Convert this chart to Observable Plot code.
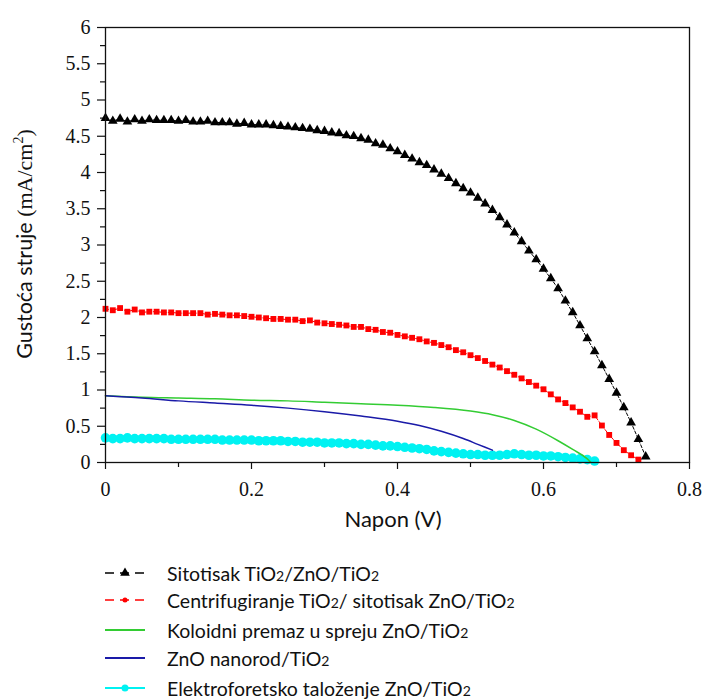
<!DOCTYPE html>
<html>
<head>
<meta charset="utf-8">
<script src="https://cdn.jsdelivr.net/npm/d3@7"></script>
<script src="https://cdn.jsdelivr.net/npm/@observablehq/plot@0.6"></script>
<style>
  body { margin: 0; background: #fff; }
  #wrap { position: relative; width: 707px; height: 700px; overflow: hidden; }
  .leg { position: absolute; left: 103px; font-family: Lato, "Open Sans", sans-serif; font-size: 19.5px; color: #111; display: flex; align-items: center; height: 22px; white-space: nowrap; }
  .leg svg { margin-right: 20px; flex: none; }
  .sub { font-size: 72%; }
</style>
</head>
<body>
<div id="wrap"></div>
<script>
// ---- data ----
const xBlack = [0.00,0.01,0.02,0.03,0.04,0.05,0.06,0.07,0.08,0.09,0.10,0.11,0.12,0.13,0.14,0.15,0.16,0.17,0.18,0.19,0.20,0.21,0.22,0.23,0.24,0.25,0.26,0.27,0.28,0.29,0.30,0.31,0.32,0.33,0.34,0.35,0.36,0.37,0.38,0.39,0.40,0.41,0.42,0.43,0.44,0.45,0.46,0.47,0.48,0.49,0.50,0.51,0.52,0.53,0.54,0.55,0.56,0.57,0.58,0.59,0.60,0.61,0.62,0.63,0.64,0.65,0.66,0.67,0.68,0.69,0.70,0.71,0.72,0.73,0.74];
const yBlack = [4.75,4.71,4.74,4.70,4.73,4.71,4.73,4.72,4.72,4.72,4.71,4.72,4.70,4.70,4.71,4.69,4.69,4.69,4.67,4.68,4.66,4.66,4.66,4.65,4.64,4.63,4.62,4.61,4.60,4.58,4.57,4.55,4.54,4.51,4.50,4.47,4.45,4.40,4.38,4.33,4.29,4.24,4.19,4.14,4.10,4.04,3.98,3.92,3.85,3.78,3.72,3.65,3.57,3.48,3.38,3.28,3.17,3.05,2.92,2.80,2.67,2.54,2.40,2.23,2.07,1.89,1.71,1.53,1.34,1.15,0.96,0.76,0.55,0.32,0.08];

const xRed = [0.00,0.01,0.02,0.03,0.04,0.05,0.06,0.07,0.08,0.09,0.10,0.11,0.12,0.13,0.14,0.15,0.16,0.17,0.18,0.19,0.20,0.21,0.22,0.23,0.24,0.25,0.26,0.27,0.28,0.29,0.30,0.31,0.32,0.33,0.34,0.35,0.36,0.37,0.38,0.39,0.40,0.41,0.42,0.43,0.44,0.45,0.46,0.47,0.48,0.49,0.50,0.51,0.52,0.53,0.54,0.55,0.56,0.57,0.58,0.59,0.60,0.61,0.62,0.63,0.64,0.65,0.66,0.67,0.68,0.69,0.70,0.71,0.72,0.73];
const yRed = [2.12,2.10,2.13,2.08,2.11,2.07,2.08,2.08,2.07,2.07,2.06,2.06,2.06,2.06,2.04,2.05,2.04,2.03,2.03,2.02,2.01,2.00,1.99,1.98,1.98,1.97,1.97,1.95,1.96,1.93,1.92,1.91,1.90,1.89,1.87,1.87,1.84,1.83,1.80,1.79,1.76,1.74,1.72,1.70,1.67,1.65,1.62,1.59,1.55,1.52,1.48,1.44,1.40,1.35,1.31,1.26,1.21,1.16,1.11,1.06,1.01,0.94,0.87,0.82,0.76,0.70,0.63,0.65,0.51,0.38,0.27,0.17,0.10,0.04];

const xGreen = [0.00,0.05,0.10,0.15,0.20,0.25,0.30,0.35,0.40,0.45,0.50,0.53,0.56,0.59,0.62,0.64,0.66,0.665];
const yGreen = [0.92,0.90,0.89,0.88,0.86,0.85,0.83,0.81,0.79,0.76,0.71,0.66,0.58,0.46,0.30,0.18,0.05,0.00];

const xBlue = [0.00,0.05,0.10,0.15,0.20,0.25,0.30,0.35,0.40,0.43,0.46,0.49,0.51,0.53];
const yBlue = [0.92,0.89,0.85,0.82,0.79,0.75,0.70,0.64,0.57,0.51,0.43,0.33,0.25,0.17];

const xCyan = [0.00,0.01,0.02,0.03,0.04,0.05,0.06,0.07,0.08,0.09,0.10,0.11,0.12,0.13,0.14,0.15,0.16,0.17,0.18,0.19,0.20,0.21,0.22,0.23,0.24,0.25,0.26,0.27,0.28,0.29,0.30,0.31,0.32,0.33,0.34,0.35,0.36,0.37,0.38,0.39,0.40,0.41,0.42,0.43,0.44,0.45,0.46,0.47,0.48,0.49,0.50,0.51,0.52,0.53,0.54,0.55,0.56,0.57,0.58,0.59,0.60,0.61,0.62,0.63,0.64,0.65,0.66,0.67];
const yCyan = [0.34,0.33,0.33,0.34,0.33,0.33,0.33,0.33,0.33,0.32,0.32,0.32,0.32,0.32,0.32,0.32,0.31,0.31,0.31,0.31,0.31,0.30,0.30,0.30,0.30,0.29,0.29,0.28,0.28,0.28,0.27,0.27,0.27,0.26,0.26,0.25,0.25,0.24,0.23,0.23,0.22,0.21,0.20,0.19,0.18,0.16,0.15,0.14,0.13,0.12,0.11,0.11,0.10,0.10,0.10,0.11,0.12,0.11,0.10,0.10,0.09,0.09,0.08,0.07,0.06,0.05,0.04,0.02];

const seriesNames = ["Sitotisak TiO₂/ZnO/TiO₂","Centrifugiranje TiO₂/ sitotisak ZnO/TiO₂","Koloidni premaz u spreju ZnO/TiO₂","ZnO nanorod/TiO₂","Elektroforetsko taloženje ZnO/TiO₂"];
const seriesColors = ["#000000","#ff0000","#33cc33","#1a1aa8","#00f2f2"];

const xTicks = [0,0.2,0.4,0.6,0.8];
const xTickLabels = ["0","0.2","0.4","0.6","0.8"];
const xMinor = [0.1,0.3,0.5,0.7];
const yTicks = [0,0.5,1,1.5,2,2.5,3,3.5,4,4.5,5,5.5,6];
const yTickLabels = ["0","0.5","1","1.5","2","2.5","3","3.5","4","4.5","5","5.5","6"];
const yMinor = [0.25,0.75,1.25,1.75,2.25,2.75,3.25,3.75,4.25,4.75,5.25,5.75];

const xLabel = "Napon (V)";
const yLabelMain = "Gustoća struje ";
const yLabelUnit = "(mA/cm";

const toRows = (xs, ys) => xs.map((x, i) => ({x, y: ys[i]}));
const black = toRows(xBlack, yBlack);
const red = toRows(xRed, yRed);
const green = toRows(xGreen, yGreen);
const blue = toRows(xBlue, yBlue);
const cyan = toRows(xCyan, yCyan);

const chart = Plot.plot({
  width: 707,
  height: 540,
  marginLeft: 105,
  marginRight: 18,
  marginTop: 27,
  marginBottom: 78,
  x: {domain: [0, 0.8]},
  y: {domain: [0, 6]},
  style: {fontFamily: "'Liberation Serif', serif", fontSize: "20px", color: "#111", background: "white"},
  marks: [
    Plot.axisX({ticks: xMinor, tickSize: 5, text: null, label: null, strokeWidth: 1.2}),
    Plot.axisX({ticks: xTicks, tickSize: 7, tickPadding: 12, tickFormat: d => xTickLabels[xTicks.indexOf(d)], label: null, strokeWidth: 1.2, fontSize: 20}),
    Plot.axisY({ticks: yMinor, tickSize: 5, text: null, label: null, strokeWidth: 1.2}),
    Plot.axisY({ticks: yTicks, tickSize: 8, tickPadding: 7, tickFormat: d => yTickLabels[yTicks.indexOf(d)], label: null, strokeWidth: 1.2, fontSize: 20}),
    Plot.line(cyan, {x: "x", y: "y", stroke: seriesColors[4], strokeWidth: 2}),
    Plot.dot(cyan, {x: "x", y: "y", r: 4.8, fill: seriesColors[4], stroke: null}),
    Plot.line(green, {x: "x", y: "y", stroke: seriesColors[2], strokeWidth: 1.5, curve: "monotone-x"}),
    Plot.line(blue, {x: "x", y: "y", stroke: seriesColors[3], strokeWidth: 1.5, curve: "monotone-x"}),
    Plot.line(red, {x: "x", y: "y", stroke: seriesColors[1], strokeWidth: 1, strokeDasharray: "3,2"}),
    Plot.dot(red, {x: "x", y: "y", symbol: "square", r: 3.3, fill: seriesColors[1], stroke: null}),
    Plot.line(black, {x: "x", y: "y", stroke: seriesColors[0], strokeWidth: 1, strokeDasharray: "3,2"}),
    Plot.dot(black, {x: "x", y: "y", symbol: "triangle", r: 3.6, fill: seriesColors[0], stroke: null}),
    Plot.frame({stroke: "#111", strokeWidth: 1.3})
  ]
});

const wrap = document.getElementById("wrap");
wrap.appendChild(chart);

// axis titles
const svg = d3.select(chart);
svg.append("text")
  .attr("x", 393).attr("y", 527)
  .attr("text-anchor", "middle")
  .style("font-family", "Lato, 'Open Sans', sans-serif")
  .style("font-size", "22px").style("fill", "#111")
  .text(xLabel);
const yl = svg.append("text")
  .attr("transform", "translate(32,244) rotate(-90)")
  .attr("text-anchor", "middle")
  .style("fill", "#111");
yl.append("tspan").style("font-family", "Lato, 'Open Sans', sans-serif").style("font-size", "21.5px").text(yLabelMain);
yl.append("tspan").style("font-family", "'Liberation Serif', serif").style("font-size", "22px").text(yLabelUnit);
yl.append("tspan").style("font-family", "'Liberation Serif', serif").style("font-size", "14px").attr("dy", "-9").text("2");
yl.append("tspan").style("font-family", "'Liberation Serif', serif").style("font-size", "22px").attr("dy", "9").text(")");

// legend
const legendCenters = [573, 600, 630, 658, 688];
const legendKinds = ["tri", "dot", "line", "line", "circle"];
seriesNames.forEach((name, i) => {
  const row = document.createElement("div");
  row.className = "leg";
  row.style.top = (legendCenters[i] - 11) + "px";
  const s = d3.create("svg").attr("width", 44).attr("height", 20);
  const c = seriesColors[i];
  if (legendKinds[i] === "tri" || legendKinds[i] === "dot") {
    s.append("line").attr("x1", 2).attr("x2", 42).attr("y1", 10).attr("y2", 10)
      .attr("stroke", c).attr("stroke-width", 1.6).attr("stroke-dasharray", "9,6");
    if (legendKinds[i] === "tri") {
      s.append("path").attr("transform", "translate(22,10)").attr("d", d3.symbol(d3.symbolTriangle, 40)()).attr("fill", c);
    } else {
      s.append("circle").attr("cx", 22).attr("cy", 10).attr("r", 2.5).attr("fill", c);
    }
  } else {
    s.append("line").attr("x1", 2).attr("x2", 42).attr("y1", 10).attr("y2", 10)
      .attr("stroke", c).attr("stroke-width", 1.8);
    if (legendKinds[i] === "circle") {
      s.append("circle").attr("cx", 22).attr("cy", 10).attr("r", 3.5).attr("fill", c);
    }
  }
  row.appendChild(s.node());
  const t = document.createElement("span");
  t.innerHTML = name.replace(/₂/g, '<span class="sub">2</span>');
  row.appendChild(t);
  wrap.appendChild(row);
});
</script>
</body>
</html>
